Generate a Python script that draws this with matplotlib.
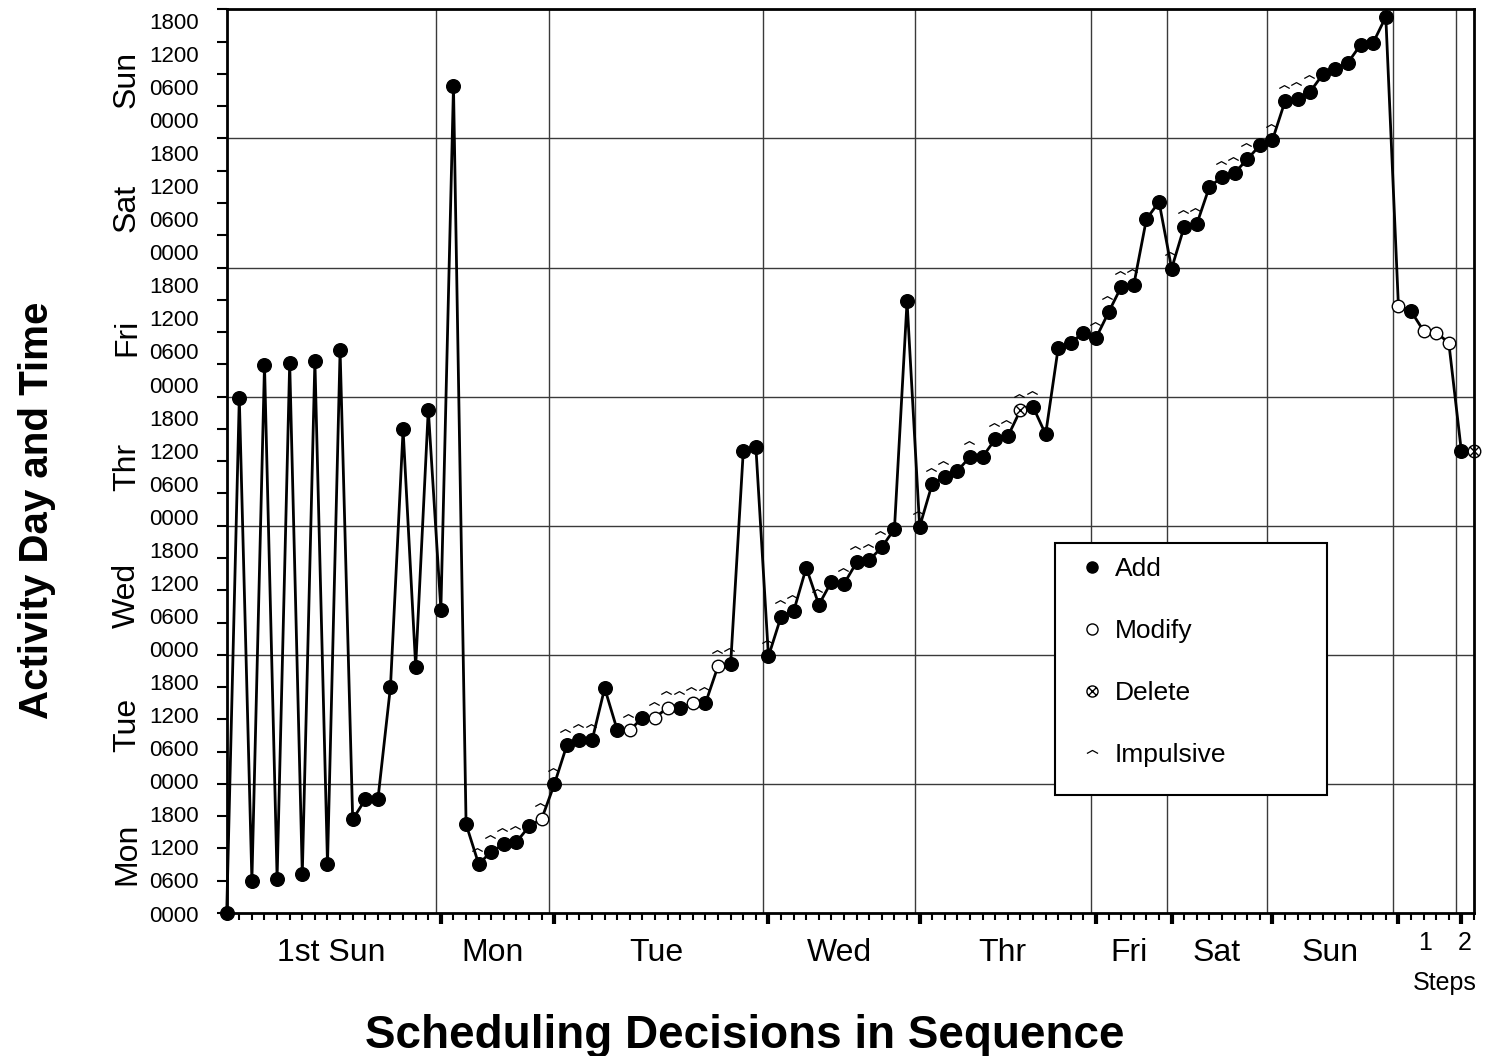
import matplotlib
matplotlib.use('Agg')
import matplotlib.pyplot as plt
import numpy as np
from matplotlib.lines import Line2D
from matplotlib.path import Path
from matplotlib.patches import Rectangle
from matplotlib.transforms import offset_copy, blended_transform_factory

plt.rcParams['font.family'] = ['Liberation Sans', 'DejaVu Sans']

# ---------------- data ----------------
# activity time in hours from Monday 0000 for each scheduling decision
hours = [0.0, 95.8, 6.0, 101.9, 6.4, 102.3, 7.2, 102.7, 9.1, 104.6,
         17.4, 21.1, 21.1, 42.1, 89.9, 45.8, 93.6, 56.4, 153.7, 16.5,
         9.1, 11.4, 12.8, 13.2, 16.1, 17.5, 23.9, 31.2, 32.1, 32.1,
         41.8, 34.0, 34.0, 36.3, 36.3, 38.2, 38.2, 39.0, 39.0, 45.9,
         46.3, 85.8, 86.7, 47.7, 55.1, 56.1, 64.2, 57.3, 61.6, 61.2,
         65.2, 65.6, 68.0, 71.4, 113.7, 71.8, 79.8, 81.1, 82.2, 84.8,
         84.8, 88.1, 88.6, 93.5, 94.1, 89.0, 105.1, 106.0, 107.9, 106.9,
         111.7, 116.4, 116.8, 129.0, 132.2, 119.8, 127.6, 128.1, 135.0, 136.8,
         137.6, 140.1, 142.7, 143.7, 150.9, 151.4, 152.7, 155.9, 156.9, 158.1,
         161.4, 161.8, 166.6, 112.9, 111.9, 108.2, 107.9, 106.0, 85.8, 85.8]

# A = Add, M = Modify, D = Delete
kinds = list("AAAAAAAAAA" "AAAAAAAAAA" "AAAAAMAAAA" "AAMAMMAMAM"
             "AAAAAAAAAA" "AAAAAAAAAA" "AAADAAAAAA" "AAAAAAAAAA"
             "AAAAAAAAAA" "AAAMAMMMAD")

impulsive = [0, 0, 0, 0, 0, 0, 0, 0, 0, 0,
             0, 0, 0, 0, 0, 0, 0, 0, 0, 0,
             1, 1, 1, 1, 0, 1, 1, 1, 1, 1,
             0, 0, 1, 0, 1, 1, 1, 1, 1, 1,
             1, 0, 0, 1, 1, 1, 0, 1, 0, 1,
             1, 1, 1, 0, 0, 1, 1, 1, 0, 1,
             0, 1, 1, 1, 1, 0, 0, 0, 0, 1,
             1, 1, 1, 0, 0, 1, 1, 1, 0, 1,
             1, 1, 0, 1, 1, 1, 1, 0, 0, 0,
             0, 0, 0, 0, 0, 0, 0, 0, 0, 0]

# x-axis groups (index where each new group starts) and their labels
group_starts = [17, 26, 43, 55, 69, 75, 83, 93, 98]
group_labels = ["1st Sun", "Mon", "Tue", "Wed", "Thr", "Fri", "Sat", "Sun", "1", "2"]
day_names = ["Mon", "Tue", "Wed", "Thr", "Fri", "Sat", "Sun"]
time_labels = ["0000", "0600", "1200", "1800"]
legend_labels = ["Add", "Modify", "Delete", "Impulsive"]

# ---------------- figure ----------------
fig = plt.figure(figsize=(14.88, 10.56), dpi=100)
ax = fig.add_axes([226.7 / 1488, 1 - 913 / 1056, (1474 - 226.7) / 1488, (913 - 9.3) / 1056])

n = len(hours)
x = np.arange(n)
h = np.array(hours)
k = np.array(kinds)
imp = np.array(impulsive, dtype=bool)

ax.set_xlim(0, n - 1)
ax.set_ylim(0, 168)

# grid
for b in group_starts:
    ax.axvline(b - 0.4, color='#3a3a3a', lw=1.0, zorder=1)
for d in range(1, 7):
    ax.axhline(24 * d, color='#3a3a3a', lw=1.0, zorder=1)

# markers
circ = Path.unit_circle()
r = 0.707
xpath = Path([(-r, -r), (r, r), (-r, r), (r, -r)],
             [Path.MOVETO, Path.LINETO, Path.MOVETO, Path.LINETO])
delete_marker = Path.make_compound_path(circ, xpath)
caret_marker = Path([(-1, 0), (0, 0.55), (1, 0)], [Path.MOVETO, Path.LINETO, Path.LINETO])

ax.plot(x, h, color='k', lw=2.0, zorder=3, clip_on=False)
m = k == 'A'
ax.plot(x[m], h[m], ls='none', marker='o', ms=9.8, mfc='k', mec='k', zorder=4, clip_on=False)
m = k == 'M'
ax.plot(x[m], h[m], ls='none', marker='o', ms=9.0, mfc='white', mec='k', mew=1.0, zorder=4, clip_on=False)
m = k == 'D'
ax.plot(x[m], h[m], ls='none', marker=delete_marker, ms=9.0, mfc='white', mec='k', mew=1.0,
        zorder=4, clip_on=False)
tr = offset_copy(ax.transData, fig=fig, x=-1.0, y=9.5, units='points')
ax.plot(x[imp], h[imp], ls='none', marker=caret_marker, ms=7.5, mfc='none', mec='k', mew=0.9,
        transform=tr, zorder=5, clip_on=False)

# spines & ticks
for s in ax.spines.values():
    s.set_linewidth(2.0)
    s.set_zorder(8)
ax.set_yticks(np.arange(0, 169, 6))
ax.set_yticklabels([])
ax.tick_params(axis='y', length=7, width=1.5, direction='out')
ax.set_xticks(group_starts)
ax.set_xticklabels([])
ax.set_xticks([i for i in range(1, n) if i not in group_starts], minor=True)
ax.tick_params(axis='x', which='major', length=8, width=3.0, direction='out')
ax.tick_params(axis='x', which='minor', length=5, width=1.5, direction='out')

# y time labels (evenly spread, as in the original)
ytr = blended_transform_factory(ax.transAxes, ax.transData)
n_lab = 7 * 4
lab_step = 6.146
for i in range(n_lab):
    ax.text(-0.0222, -0.56 + lab_step * i, time_labels[i % 4], transform=ytr,
            ha='right', va='center', fontsize=16)
for d, name in enumerate(day_names):
    ax.text(-0.080, 24 * d + 11, name, transform=ytr, rotation=90,
            ha='center', va='center', fontsize=23)

# x group labels
xtr = blended_transform_factory(ax.transData, ax.transAxes)
edges = [0] + [b - 0.4 for b in group_starts] + [n - 1]
for i, lab in enumerate(group_labels):
    mid = (edges[i] + edges[i + 1]) / 2
    if lab in ("1", "2"):
        ax.text(mid, -0.033, lab, transform=xtr, ha='center', va='center', fontsize=18)
    else:
        ax.text(mid, -0.044, lab, transform=xtr, ha='center', va='center', fontsize=23)
ax.text((edges[-3] + edges[-1]) / 2 + 0.9, -0.077, "Steps", transform=xtr,
        ha='center', va='center', fontsize=18)

fig.text(0.5007, 0.019, "Scheduling Decisions in Sequence", ha='center', va='center',
         fontsize=33, fontweight='bold')
fig.text(0.0249, 0.517, "Activity Day and Time", ha='center', va='center',
         fontsize=29, fontweight='bold', rotation=90)

# legend: box + entries
ax.add_patch(Rectangle((0.664, 0.1305), 0.218, 0.2785, transform=ax.transAxes,
                       facecolor='white', edgecolor='k', lw=1.5, zorder=6))
handles = [
    Line2D([], [], ls='none', marker='o', ms=8, mfc='k', mec='k'),
    Line2D([], [], ls='none', marker='o', ms=8, mfc='white', mec='k', mew=1.0),
    Line2D([], [], ls='none', marker=delete_marker, ms=8, mfc='white', mec='k', mew=1.0),
    Line2D([], [], ls='none', marker=caret_marker, ms=8, mfc='none', mec='k', mew=0.9),
]
leg = ax.legend(handles, legend_labels, loc='upper left', bbox_to_anchor=(0.6832, 0.394),
                borderaxespad=0, fontsize=19, frameon=False, borderpad=0,
                handlelength=1.0, handletextpad=0.37, labelspacing=1.44)
leg.set_zorder(7)

fig.savefig('out.png', dpi=100)
